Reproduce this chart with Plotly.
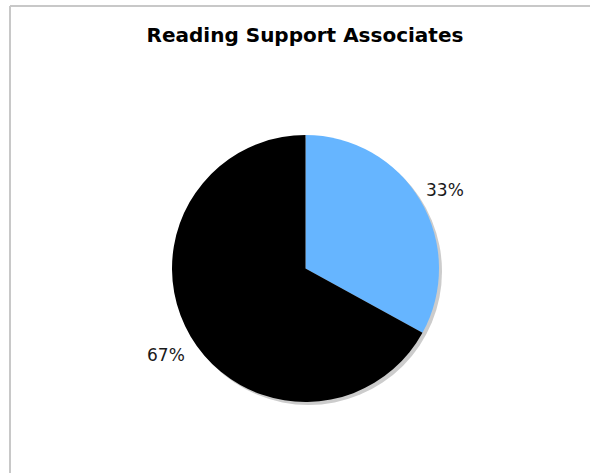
import math
import plotly.graph_objects as go

# Share of reading support associates by group
labels = ["Group A", "Group B"]
values = [33, 67]
colors = ["#66B5FF", "#000000"]

W, H = 590, 473
cx, cy, r = 305.5, 268.5, 133.5  # pie centre (px from top-left) and radius
label_r = 162                     # distance of the percentage labels from the centre
shadow_off = 3

def px_x(v):
    return v / W

def px_y(v):
    return 1 - v / H

fig = go.Figure(
    go.Pie(
        labels=labels,
        values=values,
        sort=False,
        direction="clockwise",
        rotation=0,
        marker=dict(colors=colors, line=dict(width=0)),
        textinfo="none",
        hoverinfo="label+percent",
        showlegend=False,
        domain=dict(x=[px_x(cx - r), px_x(cx + r)], y=[px_y(cy + r), px_y(cy - r)]),
    )
)

# percentage labels placed outside each slice, along its middle angle
total = sum(values)
annotations = []
start = 0.0
for v in values:
    frac = v / total
    mid = 2 * math.pi * (start + frac / 2)  # clockwise from 12 o'clock
    lx = cx + label_r * math.sin(mid)
    ly = cy - label_r * math.cos(mid) + 4
    annotations.append(
        dict(
            text=f"{frac:.0%}",
            x=px_x(lx),
            y=px_y(ly),
            xref="paper",
            yref="paper",
            xanchor="center",
            yanchor="middle",
            showarrow=False,
            font=dict(family="DejaVu Sans", size=17, color="#1a1a1a"),
        )
    )
    start += frac

fig.update_layout(
    width=W,
    height=H,
    margin=dict(l=0, r=0, t=0, b=0),
    paper_bgcolor="white",
    plot_bgcolor="white",
    title=dict(
        text="<b>Reading Support Associates</b>",
        x=px_x(305),
        xanchor="center",
        y=px_y(35),
        yanchor="middle",
        font=dict(family="DejaVu Sans", size=20, color="black"),
    ),
    annotations=annotations,
    shapes=[
        # drop shadow behind the pie
        dict(
            type="circle",
            xref="paper",
            yref="paper",
            x0=px_x(cx - r + shadow_off),
            x1=px_x(cx + r + shadow_off),
            y0=px_y(cy + r + shadow_off),
            y1=px_y(cy - r + shadow_off),
            fillcolor="#cccccc",
            line=dict(width=0),
            layer="below",
        ),
        # frame: top and left edges
        dict(
            type="line",
            xref="paper",
            yref="paper",
            x0=px_x(10),
            x1=1,
            y0=px_y(6),
            y1=px_y(6),
            line=dict(color="#c8c8c8", width=2),
            layer="below",
        ),
        dict(
            type="line",
            xref="paper",
            yref="paper",
            x0=px_x(10),
            x1=px_x(10),
            y0=px_y(6),
            y1=0,
            line=dict(color="#c8c8c8", width=2),
            layer="below",
        ),
    ],
)

fig.write_html("out.html")
